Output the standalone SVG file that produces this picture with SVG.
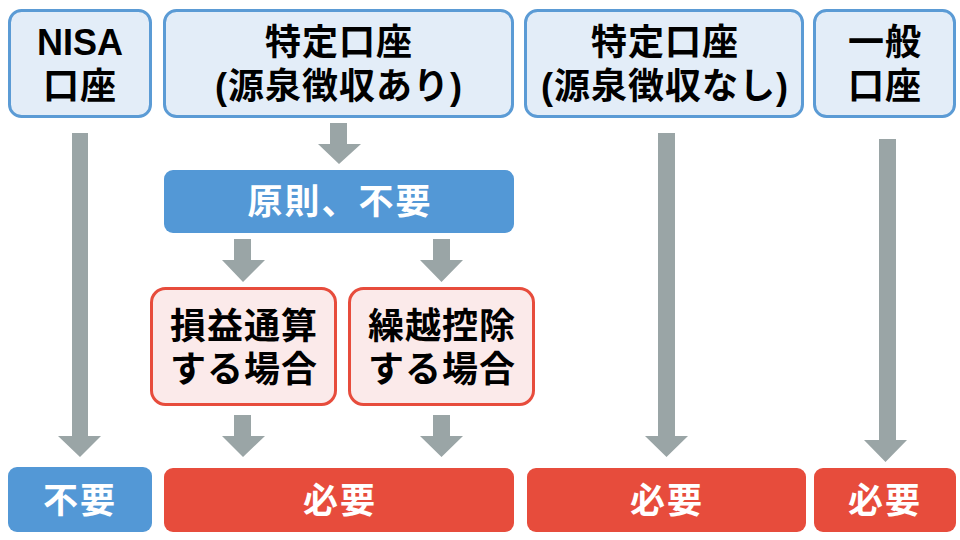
<svg xmlns="http://www.w3.org/2000/svg" width="960" height="540" viewBox="0 0 960 540">
<defs>
<style>
.top{fill:#e3edf8;stroke:#5b9bd5;stroke-width:3}
.case{fill:#fbeaea;stroke:#e74c3c;stroke-width:3}
.blue{fill:#5398d6}
.red{fill:#e74c3c}
.arr{fill:#9aa5a6}
text{font-family:"Liberation Sans","Noto Sans CJK JP",sans-serif;font-weight:bold;text-anchor:middle}
.dk{fill:#000;font-size:36px;letter-spacing:1px}
.lat{letter-spacing:0}
.wt{fill:#fff;font-size:35px;letter-spacing:2px}
</style>
</defs>
<rect width="960" height="540" fill="#fff"/>
<g id="connectors">
<polygon class="arr" points="72,133 88,133 88,436 101,436 80,457 58,436 72,436"/>
<polygon class="arr" points="330,123 347,123 347,144 361,144 339,164 318,144 330,144"/>
<polygon class="arr" points="234,239 251,239 251,260 265,260 243,282 222,260 234,260"/>
<polygon class="arr" points="433,239 450,239 450,260 463,260 441.5,282 420,260 433,260"/>
<polygon class="arr" points="234,415 251,415 251,436 265,436 243,457 222,436 234,436"/>
<polygon class="arr" points="433,415 450,415 450,436 463,436 441.5,457 420,436 433,436"/>
<polygon class="arr" points="658,133 675,133 675,436 688,436 666.5,457 645,436 658,436"/>
<polygon class="arr" points="879,139 896,139 896,440 907,440 885.5,462 864,440 879,440"/>
</g>
<g id="nisa"><rect class="top" x="9.5" y="10.5" width="141" height="106" rx="12"/><text class="dk lat" x="80" y="55">NISA</text><text class="dk" x="80" y="99">口座</text></g>
<g id="tokutei-ari"><rect class="top" x="164.5" y="10.5" width="348" height="106" rx="12"/><text class="dk" x="339" y="55">特定口座</text><text class="dk" x="339" y="99">(源泉徴収あり)</text></g>
<g id="tokutei-nashi"><rect class="top" x="525.5" y="10.5" width="277" height="106" rx="12"/><text class="dk" x="665" y="55">特定口座</text><text class="dk" x="665" y="99">(源泉徴収なし)</text></g>
<g id="ippan"><rect class="top" x="814.5" y="10.5" width="140" height="106" rx="12"/><text class="dk" x="885" y="55">一般</text><text class="dk" x="885" y="99">口座</text></g>
<g id="gensoku"><rect class="blue" x="164" y="170" width="350" height="63" rx="9"/><text class="wt" x="340" y="214">原則、不要</text></g>
<g id="sonneki"><rect class="case" x="151.5" y="288.5" width="184" height="116" rx="14"/><text class="dk" x="244" y="339">損益通算</text><text class="dk" x="244" y="382">する場合</text></g>
<g id="kurikoshi"><rect class="case" x="349.5" y="288.5" width="184" height="116" rx="14"/><text class="dk" x="442" y="339">繰越控除</text><text class="dk" x="442" y="382">する場合</text></g>
<g id="fuyou"><rect class="blue" x="8" y="467" width="144" height="65" rx="9"/><text class="wt" x="80" y="513">不要</text></g>
<g id="hitsuyou1"><rect class="red" x="164" y="468" width="350" height="64" rx="9"/><text class="wt" x="340" y="513">必要</text></g>
<g id="hitsuyou2"><rect class="red" x="527" y="468" width="279" height="64" rx="9"/><text class="wt" x="667" y="513">必要</text></g>
<g id="hitsuyou3"><rect class="red" x="814" y="468" width="142" height="64" rx="9"/><text class="wt" x="885" y="513">必要</text></g>
</svg>
